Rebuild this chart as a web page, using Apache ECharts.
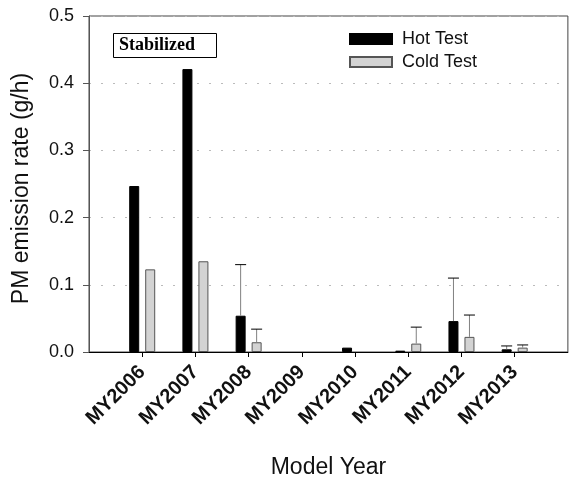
<!DOCTYPE html>
<html><head><meta charset="utf-8">
<script src="https://cdn.jsdelivr.net/npm/echarts@6/dist/echarts.min.js"></script>
<style>html,body{margin:0;padding:0;background:#fff}#c{width:570px;height:485px}</style>
</head><body><div id="c"></div>
<script>
const categories = ['MY2006','MY2007','MY2008','MY2009','MY2010','MY2011','MY2012','MY2013'];
const hotTest  = [0.247, 0.421, 0.054, null, 0.0065, 0.002, 0.046, 0.004];
const coldTest = [0.123, 0.135, 0.0145, null, null, 0.0125, 0.0225, 0.0065];
const hotErrTop  = [null, null, 0.130, null, null, null, 0.110, 0.009];
const coldErrTop = [null, null, 0.034, null, null, 0.037, 0.055, 0.0105];
const yTicks = [0.0, 0.1, 0.2, 0.3, 0.4, 0.5];

const PAD0 = '__pad0', PAD1 = '__pad1';
const xData = [PAD0].concat(categories, [PAD1]);
const pad = arr => [null].concat(arr, [null]);
const SANS = '"Liberation Sans", Arial, sans-serif';

function errSeries(vals, tops, dx) {
  const data = [];
  vals.forEach((v, i) => { if (tops[i] != null) data.push([i + 1, v, tops[i]]); });
  return {
    type: 'custom', silent: true, z: 5,
    data: data,
    renderItem: function (params, api) {
      const x = api.value(0);
      const p0 = api.coord([x, api.value(1)]);
      const p1 = api.coord([x, api.value(2)]);
      const cx = p0[0] + dx;
      return { type: 'group', children: [
        { type: 'line', shape: { x1: cx, y1: p0[1], x2: cx, y2: p1[1] }, style: { stroke: '#808080', lineWidth: 1 } },
        { type: 'line', shape: { x1: cx - 5.5, y1: p1[1], x2: cx + 5.5, y2: p1[1] }, style: { stroke: '#000', lineWidth: 1 } }
      ]};
    }
  };
}

const chart = echarts.init(document.getElementById('c'), null, { renderer: 'canvas' });
chart.setOption({
  animation: false,
  backgroundColor: '#fff',
  grid: { left: 89, right: 1, top: 16, bottom: 133, show: true, borderColor: '#444', borderWidth: 1, containLabel: false },
  legend: {
    orient: 'vertical', left: 349, top: 30, padding: 0, itemWidth: 42, itemHeight: 10, itemGap: 5,
    icon: 'rect',
    textStyle: { fontFamily: SANS, fontSize: 18, color: '#111', padding: [0, 0, 0, 5] },
    data: ['Hot Test', 'Cold Test']
  },
  graphic: [
    { type: 'rect', left: 113, top: 33, shape: { width: 103, height: 24 }, style: { fill: '#fff', stroke: '#000', lineWidth: 1 }, z: 10 },
    { type: 'text', left: 119, top: 36, style: { text: 'Stabilized', font: 'bold 18px "Liberation Serif", "Times New Roman", serif', fill: '#000' }, z: 11 }
  ],
  xAxis: {
    type: 'category', data: xData, boundaryGap: false,
    name: 'Model Year', nameLocation: 'middle', nameGap: 104,
    nameTextStyle: { fontFamily: SANS, fontSize: 23, color: '#111' },
    axisLine: { show: true, lineStyle: { color: '#000', width: 1 } },
    axisTick: { show: true, length: 5, inside: false, alignWithLabel: true, lineStyle: { color: '#000' },
      interval: (i) => i > 0 && i < xData.length - 1 },
    axisLabel: { interval: 0, rotate: 45, margin: 17, fontFamily: SANS, fontWeight: 'bold', fontSize: 20, color: '#111',
      formatter: v => (v === PAD0 || v === PAD1) ? '' : v },
    splitLine: { show: false }
  },
  yAxis: {
    type: 'value', min: 0, max: 0.5, interval: 0.1,
    name: 'PM emission rate (g/h)', nameLocation: 'middle', nameGap: 56,
    nameTextStyle: { fontFamily: SANS, fontSize: 23, color: '#111', padding: [0, 9, 0, 0] },
    axisLine: { show: true, lineStyle: { color: '#555' } },
    axisTick: { show: true, length: 6, lineStyle: { color: '#555' } },
    axisLabel: { margin: 15, fontFamily: SANS, fontSize: 18, color: '#111',
      formatter: v => yTicks.includes(Math.round(v * 10) / 10) ? v.toFixed(1) : '' },
    splitLine: { show: true, lineStyle: { color: '#bbb', type: [2, 10], width: 1 } }
  },
  series: [
    { name: 'Hot Test', type: 'bar', data: pad(hotTest), barWidth: 10, barGap: '60%',
      itemStyle: { color: '#000', borderColor: '#000', borderWidth: 1 } },
    { name: 'Cold Test', type: 'bar', data: pad(coldTest), barWidth: 10, barGap: '60%',
      itemStyle: { color: '#d3d3d3', borderColor: '#555', borderWidth: 1 } },
    errSeries(hotTest, hotErrTop, -8),
    errSeries(coldTest, coldErrTop, 8)
  ]
});
</script></body></html>
